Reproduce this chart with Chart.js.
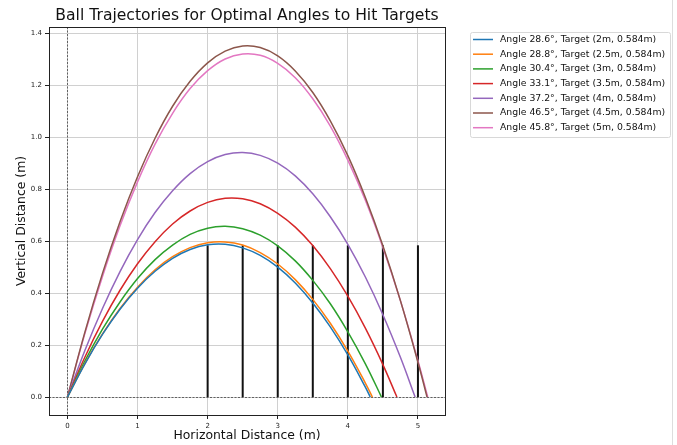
<!DOCTYPE html>
<html>
<head>
<meta charset="utf-8">
<script src="https://cdn.jsdelivr.net/npm/chart.js@4/dist/chart.umd.min.js"></script>
<style>
  html, body { margin: 0; padding: 0; background: #fff; }
  #wrap { width: 677px; height: 445px; position: relative; }
</style>
</head>
<body>
<div id="wrap"><canvas id="chart" width="677" height="445"></canvas></div>
<script>
// ── DATA ──
const xSteps = [0, 0.25, 0.5, 0.75, 1, 1.25, 1.5, 1.75, 2, 2.25, 2.5, 2.75, 3, 3.25, 3.5, 3.75, 4, 4.25, 4.5, 4.75, 5];

const labels = [
  'Angle 28.6°, Target (2m, 0.584m)',
  'Angle 28.8°, Target (2.5m, 0.584m)',
  'Angle 30.4°, Target (3m, 0.584m)',
  'Angle 33.1°, Target (3.5m, 0.584m)',
  'Angle 37.2°, Target (4m, 0.584m)',
  'Angle 46.5°, Target (4.5m, 0.584m)',
  'Angle 45.8°, Target (5m, 0.584m)',
];
const colors = ['#1f77b4', '#ff7f0e', '#2ca02c', '#d62728', '#9467bd', '#8c564b', '#e377c2'];

// landing distance of each trajectory (last point, y = 0)
const landing = [4.32, 4.35, 4.48, 4.70, 4.96, 5.13, 5.14];

// heights read along xSteps (until the ball lands)
const yBlue   = [0, 0.128, 0.241, 0.338, 0.419, 0.484, 0.534, 0.568, 0.586, 0.588, 0.574, 0.545, 0.500, 0.439, 0.362, 0.270, 0.162, 0.038];
const yOrange = [0, 0.130, 0.243, 0.341, 0.423, 0.490, 0.540, 0.575, 0.594, 0.597, 0.585, 0.556, 0.512, 0.452, 0.376, 0.284, 0.177, 0.054];
const yGreen  = [0, 0.139, 0.261, 0.366, 0.456, 0.529, 0.585, 0.626, 0.650, 0.657, 0.648, 0.623, 0.582, 0.524, 0.449, 0.359, 0.251, 0.128];
const yRed    = [0, 0.154, 0.291, 0.411, 0.513, 0.598, 0.666, 0.716, 0.749, 0.765, 0.763, 0.744, 0.707, 0.654, 0.583, 0.494, 0.388, 0.265, 0.125];
const yPurple = [0, 0.180, 0.341, 0.483, 0.606, 0.710, 0.794, 0.860, 0.906, 0.933, 0.941, 0.930, 0.900, 0.851, 0.782, 0.694, 0.588, 0.462, 0.317, 0.153];
const yBrown  = [0, 0.251, 0.476, 0.675, 0.848, 0.996, 1.119, 1.215, 1.286, 1.331, 1.351, 1.345, 1.313, 1.255, 1.172, 1.063, 0.929, 0.768, 0.582, 0.371, 0.134];
const yPink   = [0, 0.245, 0.464, 0.659, 0.828, 0.973, 1.092, 1.187, 1.256, 1.301, 1.320, 1.315, 1.284, 1.229, 1.148, 1.043, 0.912, 0.757, 0.576, 0.371, 0.140];
const heights = [yBlue, yOrange, yGreen, yRed, yPurple, yBrown, yPink];

const targetX = [2, 2.5, 3, 3.5, 4, 4.5, 5];
const targetY = 0.584;

const xTicks = [0, 1, 2, 3, 4, 5];
const yTicks = [0, 0.2, 0.4, 0.6, 0.8, 1.0, 1.2, 1.4];

// ── DATASETS ──
const datasets = [];
heights.forEach((ys, i) => {
  const pts = ys.map((y, j) => ({ x: xSteps[j], y }));
  pts.push({ x: landing[i], y: 0 });
  datasets.push({
    label: labels[i], data: pts, borderColor: colors[i], backgroundColor: colors[i],
    borderWidth: 1.5, pointRadius: 0, tension: 0.4, fill: false, order: 1
  });
});
targetX.forEach(tx => {
  datasets.push({
    label: '_target', data: [{ x: tx, y: 0 }, { x: tx, y: targetY }],
    borderColor: '#111', borderWidth: 2, pointRadius: 0, tension: 0, order: 2
  });
});

// ── PLUGIN: frame, zero lines, title, labels, legend ──
const extras = {
  id: 'extras',
  beforeDatasetsDraw(chart) {
    const { ctx, chartArea: a, scales: { x, y } } = chart;
    ctx.save();
    ctx.strokeStyle = '#444';
    ctx.lineWidth = 0.8;
    ctx.setLineDash([2, 1.5]);
    const x0 = Math.round(x.getPixelForValue(0)) + 0.5;
    const y0 = Math.round(y.getPixelForValue(0)) + 0.5;
    ctx.beginPath(); ctx.moveTo(x0, a.top); ctx.lineTo(x0, a.bottom); ctx.stroke();
    ctx.beginPath(); ctx.moveTo(a.left, y0); ctx.lineTo(a.right, y0); ctx.stroke();
    ctx.restore();
  },
  afterDraw(chart) {
    const { ctx, chartArea: a } = chart;
    ctx.save();
    // frame
    ctx.strokeStyle = '#222';
    ctx.lineWidth = 1;
    ctx.strokeRect(Math.round(a.left) + 0.5, Math.round(a.top) + 0.5, Math.round(a.right - a.left), Math.round(a.bottom - a.top));
    // page edge line on the right
    ctx.strokeStyle = '#dddddd';
    ctx.beginPath(); ctx.moveTo(672.5, 0); ctx.lineTo(672.5, 445); ctx.stroke();

    ctx.fillStyle = '#111';
    ctx.textAlign = 'center';
    ctx.textBaseline = 'middle';
    ctx.font = '15.6px "DejaVu Sans"';
    ctx.fillText('Ball Trajectories for Optimal Angles to Hit Targets', (a.left + a.right) / 2, 16);
    ctx.font = '12.4px "DejaVu Sans"';
    ctx.fillText('Horizontal Distance (m)', (a.left + a.right) / 2, 436);
    ctx.save();
    ctx.translate(22, (a.top + a.bottom) / 2);
    ctx.rotate(-Math.PI / 2);
    ctx.fillText('Vertical Distance (m)', 0, 0);
    ctx.restore();

    // legend
    const lx = 470, ly = 32, lw = 200, lh = 105;
    ctx.fillStyle = 'rgba(255,255,255,0.8)';
    ctx.strokeStyle = '#d8d8d8';
    ctx.beginPath();
    ctx.roundRect(lx + 0.5, ly + 0.5, lw, lh, 2);
    ctx.fill(); ctx.stroke();
    ctx.font = '9.3px "DejaVu Sans"';
    ctx.textAlign = 'left';
    labels.forEach((lab, i) => {
      const yy = ly + 7.5 + i * 14.7;
      ctx.strokeStyle = colors[i];
      ctx.lineWidth = 1.5;
      ctx.beginPath(); ctx.moveTo(473, yy); ctx.lineTo(493, yy); ctx.stroke();
      ctx.fillStyle = '#111';
      ctx.fillText(lab, 500, yy);
    });
    ctx.restore();
  }
};

new Chart(document.getElementById('chart'), {
  type: 'line',
  data: { datasets },
  plugins: [extras],
  options: {
    responsive: false,
    animation: false,
    layout: { padding: { left: 0, right: 232, top: 27, bottom: 0 } },
    plugins: { legend: { display: false }, tooltip: { enabled: false } },
    scales: {
      x: {
        type: 'linear', min: -0.263, max: 5.386,
        afterBuildTicks: s => { s.ticks = xTicks.map(v => ({ value: v })); },
        afterFit: s => { s.height = 30; },
        grid: { color: '#d0d0d0', lineWidth: 1, tickColor: '#222', tickLength: 4 },
        border: { color: '#222', width: 1 },
        ticks: { color: '#222', font: { family: 'DejaVu Sans', size: 7 }, padding: 3, callback: v => String(v) }
      },
      y: {
        type: 'linear', min: -0.069, max: 1.424,
        afterBuildTicks: s => { s.ticks = yTicks.map(v => ({ value: v })); },
        afterFit: s => { s.width = 49; },
        grid: { color: '#d0d0d0', lineWidth: 1, tickColor: '#222', tickLength: 4 },
        border: { color: '#222', width: 1 },
        ticks: { color: '#222', font: { family: 'DejaVu Sans', size: 7 }, padding: 3, callback: v => v.toFixed(1) }
      }
    }
  }
});
</script>
</body>
</html>
